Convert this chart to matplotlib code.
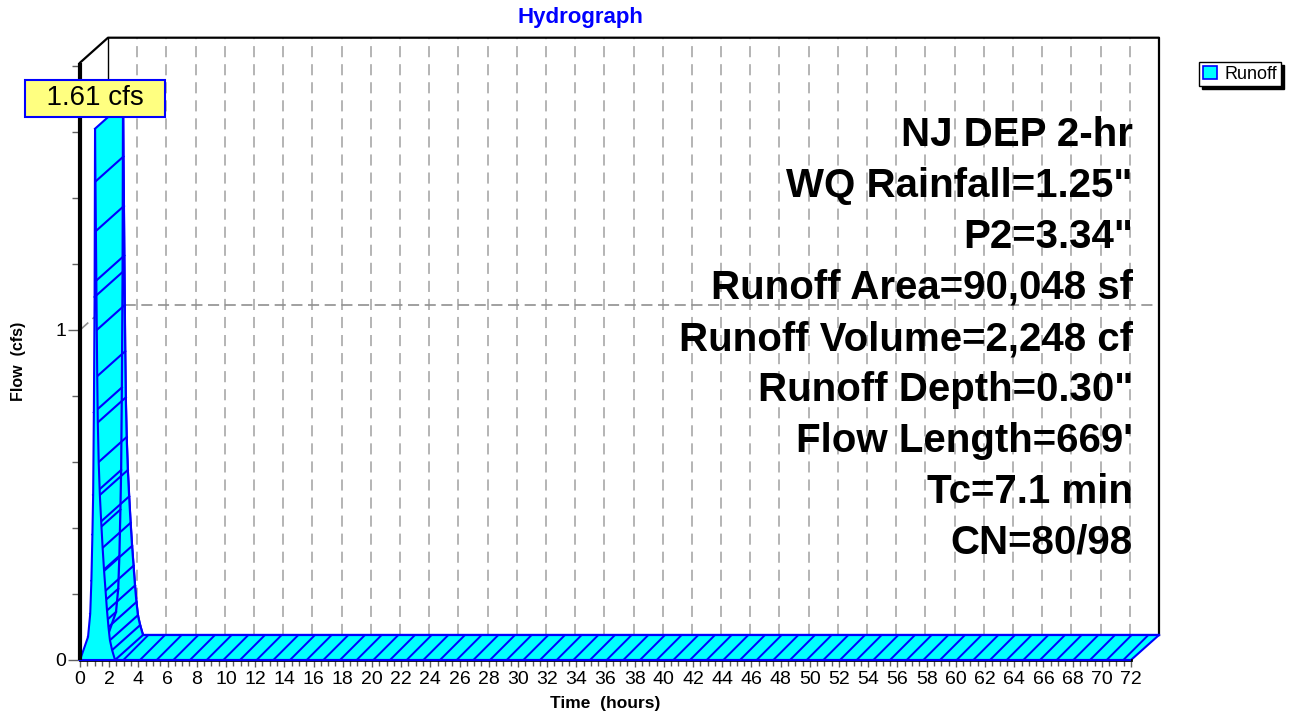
import matplotlib
matplotlib.use("Agg")
import matplotlib.pyplot as plt
from matplotlib.patches import Polygon, Patch
import numpy as np

plt.rcParams['font.family'] = ['Liberation Sans', 'DejaVu Sans']
plt.rcParams['lines.scale_dashes'] = False
plt.rcParams['hatch.color'] = 'blue'
plt.rcParams['hatch.linewidth'] = 1.4

# ---------------- data ----------------
time_hr = [0.0, 0.55, 0.70, 0.78, 0.85, 0.90, 0.95, 1.00, 1.03, 1.06, 1.09,
           1.12, 1.15, 1.18, 1.22, 1.28, 1.36, 1.45, 1.55, 1.65, 1.75, 1.85,
           1.95, 2.05, 2.20, 2.40, 72.0]
flow_cfs = [0.0, 0.07, 0.14, 0.24, 0.38, 0.50, 0.75, 1.10, 1.61, 1.45, 1.30,
            1.15, 1.00, 0.86, 0.72, 0.60, 0.50, 0.42, 0.34, 0.27, 0.21, 0.15,
            0.10, 0.06, 0.03, 0.0, 0.0]
series_name = "Runoff"
x_ticks = list(range(0, 73, 2))
y_tick_labels = [0, 1]
info_lines = ["NJ DEP 2-hr", "WQ Rainfall=1.25\"", "P2=3.34\"",
              "Runoff Area=90,048 sf", "Runoff Volume=2,248 cf",
              "Runoff Depth=0.30\"", "Flow Length=669'", "Tc=7.1 min",
              "CN=80/98"]

# ---------------- layout ----------------
W, H = 1294, 717
fig = plt.figure(figsize=(W / 100, H / 100), dpi=100)
XMAX, YMAX = 72.0, 1.81
ax_left, ax_right, ax_bot_px = 80, 1131, 660
px_per_cfs = 330
ax = fig.add_axes([ax_left / W, (H - ax_bot_px) / H, (ax_right - ax_left) / W,
                   YMAX * px_per_cfs / H])
ax.set_xlim(0, XMAX)
ax.set_ylim(0, YMAX)
for s in ax.spines.values():
    s.set_visible(False)

# 3-D depth offset in data units (28 px right, 25 px up)
depth_dx, depth_dy = 28, 25
dt = depth_dx * XMAX / (ax_right - ax_left)
dq = depth_dy / px_per_cfs

CYAN = '#00FFFF'
BLUE = '#0000FF'
GRID = '#b4b4b4'

# back wall grid lines
for xv in x_ticks[1:-1]:
    ax.plot([xv + dt, xv + dt], [dq, YMAX + dq], color=GRID, lw=1.4,
            dashes=(8, 5), zorder=1, clip_on=False)
ax.plot([0, dt], [1, 1 + dq], color='#909090', lw=1.2, dashes=(8, 4), zorder=1, clip_on=False)
ax.plot([dt, XMAX + dt], [1 + dq, 1 + dq], color='#909090', lw=1.2, dashes=(8, 4),
        zorder=1, clip_on=False)

# back-wall frame
ax.plot([dt, dt], [dq, YMAX + dq], color='black', lw=1.0, zorder=1.5, clip_on=False)
ax.plot([0, dt, XMAX + dt, XMAX + dt], [YMAX, YMAX + dq, YMAX + dq, dq],
        color='black', lw=1.6, zorder=1.5, clip_on=False)

t = np.array(time_hr)
q = np.array(flow_cfs)
front = np.column_stack([t, q])
back = front + np.array([dt, dq])

# back face
bpoly = np.vstack([back, [[t[-1] + dt, dq], [dt, dq]]])
ax.add_patch(Polygon(bpoly, closed=True, facecolor=CYAN, edgecolor=BLUE, lw=1.5,
                     zorder=2, clip_on=False))

# side faces
for i in range(len(t) - 1):
    quad = np.array([front[i], front[i + 1], back[i + 1], back[i]])
    flat = (q[i] == 0 and q[i + 1] == 0)
    ax.add_patch(Polygon(quad, closed=True, facecolor=CYAN,
                         edgecolor=BLUE if flat else 'none',
                         hatch='//' if flat else None, lw=0,
                         zorder=3, clip_on=False))
# back outline & extrusion edges
ax.plot(back[:, 0], back[:, 1], color=BLUE, lw=1.6, zorder=4, clip_on=False)
for i in range(len(t)):
    ax.plot([front[i, 0], back[i, 0]], [front[i, 1], back[i, 1]], color=BLUE,
            lw=1.5, zorder=4, clip_on=False)

# axis lines (front)
ax.plot([0, XMAX], [0, 0], color='black', lw=2.0, zorder=4.5, clip_on=False)

# front face
fpoly = np.vstack([front, [[t[-1], 0], [0, 0]]])
ax.add_patch(Polygon(fpoly, closed=True, facecolor=CYAN, edgecolor=BLUE, lw=1.5,
                     zorder=5, clip_on=False))

ax.plot([0, 0], [0, YMAX], color='black', lw=3.0, zorder=6, clip_on=False,
        solid_capstyle='butt')

# ticks
ax.set_xticks(x_ticks)
ax.set_xticks(np.arange(0, XMAX + 0.01, 0.5), minor=True)
ax.set_yticks(y_tick_labels)
ax.set_yticks(np.arange(0, YMAX, 0.2), minor=True)
ax.tick_params(axis='both', which='major', labelsize=14, color='#606060', width=1.0)
ax.tick_params(axis='x', which='major', length=5, pad=3)
ax.tick_params(axis='x', which='minor', length=4, color='#606060', width=1.0)
ax.tick_params(axis='y', which='major', length=9, pad=1)
ax.tick_params(axis='y', which='minor', length=6, color='#606060', width=1.0)

ax.set_xlabel("Time  (hours)", fontsize=12.5, fontweight='bold', labelpad=6)
ax.set_ylabel("Flow  (cfs)", fontsize=11.5, fontweight='bold', labelpad=21)

fig.text(580 / W, 1 - 18 / H, "Hydrograph", color=BLUE, fontsize=16,
         fontweight='bold', ha='center', va='center')

# peak label
ipk = int(np.argmax(q))
ax.annotate(f"  {q[ipk]:.2f} cfs  ", xy=(t[ipk], q[ipk]), xytext=(0, 22),
            textcoords='offset points', ha='center', va='center', fontsize=20,
            zorder=8, annotation_clip=False,
            bbox=dict(boxstyle='square,pad=0.2', facecolor='#FFFF80',
                      edgecolor=BLUE, lw=1.5))

# info text
y0 = 135
for k, line in enumerate(info_lines):
    fig.text(1133 / W, 1 - (y0 + k * 51) / H, line, fontsize=29, fontweight='bold',
             ha='right', va='center', zorder=9)

# legend
leg = fig.legend(handles=[Patch(facecolor=CYAN, edgecolor=BLUE, lw=1.2, label=series_name)],
                 loc='upper right', bbox_to_anchor=(1281 / W, 1 - 62 / H),
                 frameon=True, fancybox=False, shadow={'color': 'black', 'alpha': 1},
                 edgecolor='black', framealpha=1, handlelength=0.75, handleheight=0.75,
                 handletextpad=0.45, borderpad=0.2, borderaxespad=0, fontsize=13)
leg.get_frame().set_linewidth(1.0)

fig.savefig("out.png", dpi=100)
